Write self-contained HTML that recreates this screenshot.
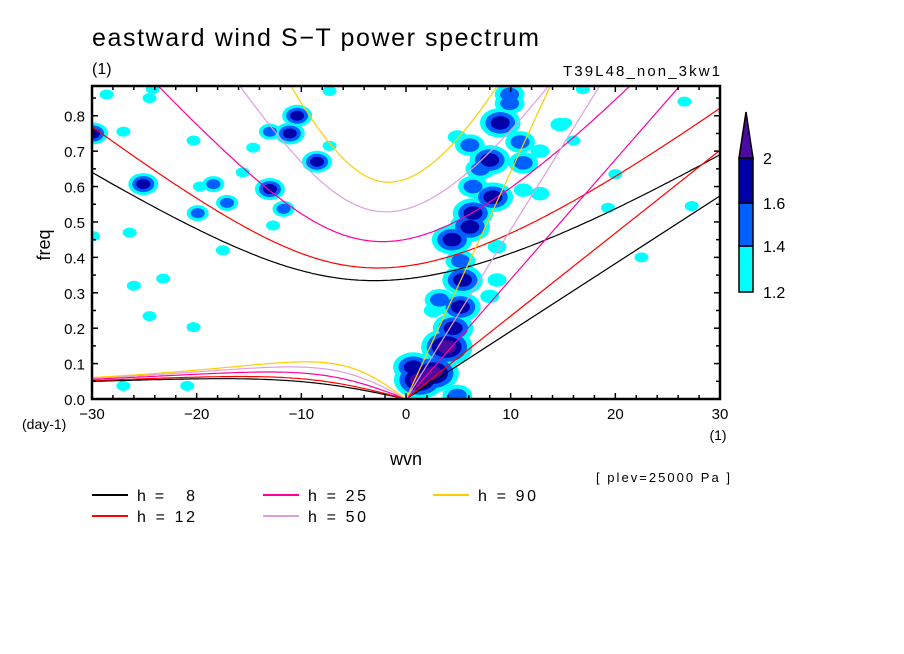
<!DOCTYPE html>
<html><head><meta charset="utf-8"><style>
body{margin:0;background:#fff;}
svg{display:block;font-family:"Liberation Sans",sans-serif;}
</style></head><body>
<svg id="chart" width="904" height="654" viewBox="0 0 904 654" xmlns="http://www.w3.org/2000/svg">
<rect width="904" height="654" fill="#fff"/>
<text x="92" y="46" font-size="25" textLength="447" lengthAdjust="spacing" fill="#000">eastward wind S−T power spectrum</text>
<text x="92" y="74" font-size="16">(1)</text>
<text x="563" y="76" font-size="15" textLength="157" lengthAdjust="spacing">T39L48_non_3kw1</text>
<defs><clipPath id="pc"><rect x="92" y="86" width="628" height="313"/></clipPath></defs>
<g id="spots" clip-path="url(#pc)"></g>
<g id="curves" clip-path="url(#pc)"></g>
<rect x="92" y="86" width="628" height="313" fill="none" stroke="#000" stroke-width="2.5"/>
<g id="axes"></g>
<text x="50" y="245" font-size="18" text-anchor="middle" transform="rotate(-90 50 245)">freq</text>
<text x="22" y="429" font-size="14">(day-1)</text>
<text x="718" y="440" font-size="14" text-anchor="middle">(1)</text>
<text x="406" y="465" font-size="18" text-anchor="middle">wvn</text>
<text x="596" y="482" font-size="13" textLength="134" lengthAdjust="spacing">[ plev=25000 Pa ]</text>
<g id="colorbar"></g>
<g id="legend"></g>
</svg>
<script>
const depths = [8, 12, 25, 50, 90];
const depthColors = ["#000000", "#ff0000", "#ff00a0", "#dda0dd", "#ffcc00"];
const xTicks = [-30, -20, -10, 0, 10, 20, 30];
const yTicks = [0, 0.1, 0.2, 0.3, 0.4, 0.5, 0.6, 0.7, 0.8];
const cbLevels = [1.2, 1.4, 1.6, 2];
const levelColors = ["#00ffff", "#0060ff", "#0000a8", "#4b0aa0"];
// spots: wavenumber, frequency, contour level reached (1..4)
const spotK = [2.6,3.9,4.5,5.2,5.4,5.2,4.4,6.1,6.4,8.3,6.4,8,7.1,11.2,9,9.9,9.9,10.9,6.1,14.7,12.8,11.2,12.8,4.9,0.7,1.3,3.2,2.6,8,8.7,8.7,4.9,
 -25.1,-29.9,-28.6,-24.2,-27,-24.5,-20.3,-14.6,-13,-11.1,-10.4,-7.3,-8.5,-7.3,-18.4,-19.7,-13,-11.7,-17.1,-19.9,-26.4,-12.7,-15.6,-24.5,-20.3,-27,-20.9,-29.9,-26,-23.2,-17.5,
 26.6,15.2,16,22.5,27.3,19.3,20,16.9];
const spotF = [0.073,0.147,0.2,0.26,0.336,0.39,0.45,0.486,0.525,0.57,0.6,0.675,0.65,0.667,0.78,0.835,0.86,0.726,0.717,0.775,0.7,0.59,0.58,0.74,0.09,0.054,0.28,0.25,0.29,0.43,0.336,0.01,
 0.607,0.75,0.86,0.876,0.755,0.85,0.73,0.71,0.755,0.75,0.8,0.87,0.67,0.715,0.607,0.6,0.593,0.537,0.554,0.525,0.47,0.49,0.64,0.234,0.203,0.037,0.037,0.46,0.32,0.34,0.42,
 0.84,0.78,0.73,0.4,0.545,0.54,0.635,0.875];
const spotL = [4,4,3,3,3,2,3,3,3,3,2,3,2,2,3,2,2,2,2,1,1,1,1,1,3,4,2,1,1,1,1,2,
 3,3,1,1,1,1,1,1,2,3,3,1,3,1,2,1,3,2,2,2,1,1,1,1,1,1,1,1,1,1,1,
 1,1,1,1,1,1,1,1];

const X0=92,X1=720,Y0=399,Y1=86,FMAX=0.884;
const xs = k => X0 + (k + 30) / 60 * (X1 - X0);
const ys = f => Y0 - f / FMAX * (Y0 - Y1);
const NS = "http://www.w3.org/2000/svg";
function mk(tag, attrs, parent){const e=document.createElementNS(NS,tag);for(const a in attrs)e.setAttribute(a,attrs[a]);parent.appendChild(e);return e;}

// contours
const sg = document.getElementById('spots');
for (let lv = 1; lv <= 4; lv++) {
  for (let i = 0; i < spotK.length; i++) {
    const L = spotL[i]; if (L < lv) continue;
    const s = L - lv + 1;
    const band = i < 32 ? 1.35 : 1;
    const e = mk('ellipse', {cx: xs(spotK[i]), cy: ys(spotF[i]), rx: (3 + 4*s)*band, ry: (2 + 3*s)*band, fill: levelColors[lv-1]}, sg);
    
    
  }
}

// dispersion curves
const g=9.81, beta=2.29e-11, a=6.371e6, toCpd=86400/(2*Math.PI);
function roots(kw, c){
  const k = kw / a, A = c*c*k*k + 3*beta*c, B = beta*c*c*k;
  const m = 2*Math.sqrt(A/3);
  let arg = (3*B)/(2*A)*Math.sqrt(3/A);
  arg = Math.max(-1, Math.min(1, arg));
  const th = Math.acos(arg)/3;
  const r = [0,1,2].map(j => m*Math.cos(th - 2*Math.PI*j/3)).sort((p,q)=>p-q);
  return r.map(v => v*toCpd);
}
const cg = document.getElementById('curves');
depths.forEach((h, i) => {
  const c = Math.sqrt(g*h);
  let ig = '', er = '';
  for (let kw = -30; kw <= 30.001; kw += 0.25) {
    const r = roots(kw, c);
    ig += (ig ? 'L' : 'M') + xs(kw).toFixed(1) + ',' + ys(r[2]).toFixed(1);
    if (kw <= 0) er += (er ? 'L' : 'M') + xs(kw).toFixed(1) + ',' + ys(r[1]).toFixed(1);
  }
  const kf = 30/a*c*toCpd;
  const p1 = mk('path', {d: ig, fill: 'none', stroke: depthColors[i], 'stroke-width': 1.2}, cg);
  
  
  const p2 = mk('path', {d: er, fill: 'none', stroke: depthColors[i], 'stroke-width': 1.2}, cg);
  
  
  const p3 = mk('line', {x1: xs(0), y1: ys(0), x2: xs(30), y2: ys(kf), stroke: depthColors[i], 'stroke-width': 1.2}, cg);
  
  
});

// axes
const ax = document.getElementById('axes');
for (let k = -30; k <= 30; k += 2) {
  const major = k % 10 === 0;
  const len = major ? 6 : 4;
  const t1 = mk('line', {x1: xs(k), x2: xs(k), y1: Y0, y2: Y0 - len, stroke: '#000', 'stroke-width': 1.5}, ax);
  
  
  const t2 = mk('line', {x1: xs(k), x2: xs(k), y1: Y1, y2: Y1 + len, stroke: '#000', 'stroke-width': 1.5}, ax);
  
  
}
xTicks.forEach(k => {
  const t = mk('text', {x: xs(k), y: 419, 'font-size': 15, 'text-anchor': 'middle'}, ax);
  t.textContent = (k < 0 ? '−' : '') + Math.abs(k);
  
  
});
for (let j = 0; j <= 17; j++) {
  const f = j * 0.05, len = j % 2 === 0 ? 6 : 4;
  const t1 = mk('line', {x1: X0, x2: X0 + len, y1: ys(f), y2: ys(f), stroke: '#000', 'stroke-width': 1.5}, ax);
  
  
  const t2 = mk('line', {x1: X1, x2: X1 - len, y1: ys(f), y2: ys(f), stroke: '#000', 'stroke-width': 1.5}, ax);
  
  
}
yTicks.forEach(f => {
  const t = mk('text', {x: 85, y: ys(f) + 6, 'font-size': 15, 'text-anchor': 'end'}, ax);
  t.textContent = f.toFixed(1);
  
  
});

// colorbar
const cb = document.getElementById('colorbar');
const cbY = [292, 246, 203, 158];
for (let i = 0; i < 3; i++) {
  const r = mk('rect', {x: 739, y: cbY[i+1], width: 14, height: cbY[i] - cbY[i+1], fill: levelColors[i], stroke: '#000', 'stroke-width': 1.5}, cb);
  
  
}
const tri = mk('polygon', {points: '739,158 753,158 746,112', fill: levelColors[3], stroke: '#000', 'stroke-width': 1.5}, cb);


cbLevels.forEach((v, i) => {
  const t = mk('text', {x: 763, y: cbY[i] + 6, 'font-size': 16}, cb);
  t.textContent = String(v);
  
  
});

// legend
const lg = document.getElementById('legend');
const lx = [92, 92, 263, 263, 433], ly = [495, 516, 495, 516, 495];
depths.forEach((h, i) => {
  const l = mk('line', {x1: lx[i], x2: lx[i] + 36, y1: ly[i], y2: ly[i], stroke: depthColors[i], 'stroke-width': 2}, lg);
  
  
  const t = mk('text', {x: lx[i] + 45, y: ly[i] + 6, 'font-size': 16, textLength: 58, lengthAdjust: 'spacing'}, lg);
  t.textContent = 'h = ' + (h < 10 ? '\u00a0\u00a0' : '') + h;
  
  
});
</script>
</body></html>
